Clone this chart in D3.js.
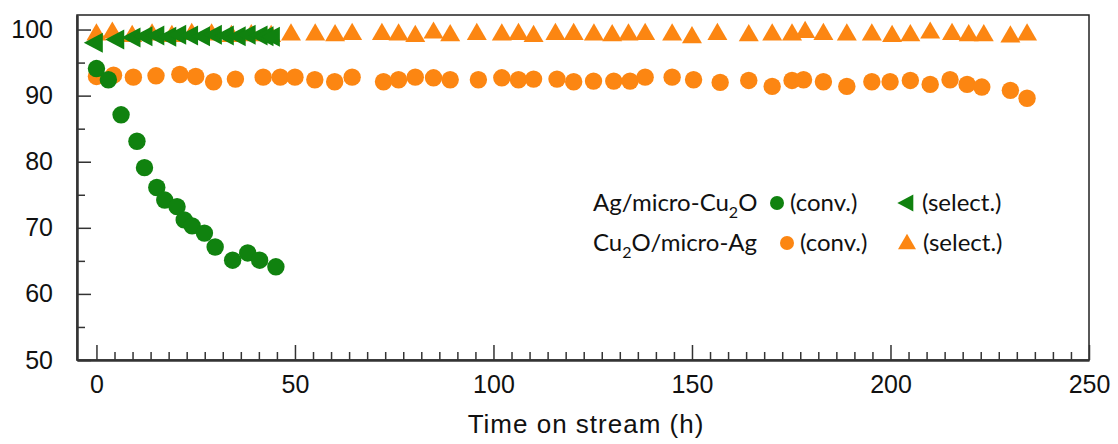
<!DOCTYPE html>
<html>
<head>
<meta charset="utf-8">
<script src="https://cdn.jsdelivr.net/npm/d3@7"></script>
<style>
  body { margin: 0; background: #fff; }
  svg { display: block; }
</style>
</head>
<body>
<div id="chart"></div>
<script>
// Ag/micro-Cu2O
const agConvTime = [0, 3, 6.2, 10.2, 12.1, 15.2, 17.2, 20.3, 22.1, 24.1, 27.2, 29.9, 34.3, 38.1, 41.1, 45.2];
const agConvVal  = [94.1, 92.4, 87.1, 83.1, 79.1, 76.1, 74.2, 73.2, 71.2, 70.3, 69.2, 67.1, 65.1, 66.2, 65.1, 64.1];
const agSelTime  = [0, 5.4, 9.5, 12.5, 15.5, 18.5, 21, 24, 27, 30, 33, 36, 38.5, 41.5, 43, 44.6];
const agSelVal   = [98.0, 98.5, 98.8, 99.0, 99.1, 98.9, 99.2, 99.1, 99.0, 99.2, 99.1, 99.0, 99.2, 99.1, 99.0, 98.9];

// Cu2O/micro-Ag
const cuConvTime = [0, 4.3, 9.3, 15, 21, 25, 29.5, 35, 42, 46.3, 50, 55, 60, 64.4, 72.3, 76.1, 80.3, 84.9, 89.1, 96.2,
  102.1, 106.3, 110.1, 116, 120.2, 125.2, 130.3, 134.4, 138.2, 145, 150.4, 157.1, 164.3, 170.2, 175.2, 178.1,
  183.1, 189, 195.3, 199.9, 205, 210, 215, 219.3, 223, 230.2, 234.4];
const cuConvVal  = [92.9, 93.1, 92.8, 93.0, 93.2, 92.9, 92.1, 92.5, 92.8, 92.8, 92.8, 92.4, 92.1, 92.8, 92.1, 92.4, 92.8, 92.7, 92.4, 92.4,
  92.7, 92.4, 92.5, 92.5, 92.1, 92.2, 92.2, 92.2, 92.8, 92.8, 92.4, 92.0, 92.3, 91.4, 92.3, 92.4,
  92.1, 91.4, 92.1, 92.1, 92.3, 91.7, 92.4, 91.7, 91.3, 90.8, 89.6];
const cuSelTime  = [0, 4, 9, 14, 19, 24, 29, 34, 39, 44, 49, 55.1, 60.1, 64.4, 71.9, 76.1, 80.3, 84.9, 89.1, 95.8,
  102.1, 106.3, 110.1, 115.6, 120.2, 125.3, 129.9, 134, 138.2, 145, 150, 156.4, 164.3, 170.2, 175.2, 178.5,
  183.1, 189, 195.3, 200.4, 205, 210, 215.5, 219.7, 223.5, 230.2, 234.4];
const cuSelVal   = [99.2, 99.5, 99.0, 99.2, 99.0, 99.3, 99.2, 99.0, 99.1, 99.0, 99.2, 99.2, 99.1, 99.3, 99.3, 99.2, 99.0, 99.5, 99.1, 99.3,
  99.2, 99.3, 99.0, 99.3, 99.3, 99.2, 99.1, 99.2, 99.3, 99.2, 98.8, 99.3, 99.1, 99.2, 99.2, 99.6,
  99.3, 99.2, 99.2, 99.0, 99.1, 99.5, 99.3, 99.1, 99.1, 98.9, 99.2];

const xTicks = [0, 50, 100, 150, 200, 250];
const yTicks = [50, 60, 70, 80, 90, 100];

const green = "#10820f", orange = "#fc8612";
const tickFont = "'Liberation Sans', Arial, sans-serif";
const legendFont = "Lato, 'Open Sans', sans-serif";

const W = 1118, H = 444;
const margin = {top: 15, right: 29, bottom: 84, left: 77};
const width = W - margin.left - margin.right,
  height = H - margin.top - margin.bottom;

const svg = d3.select("#chart")
  .append("svg")
  .attr("width", W)
  .attr("height", H)
  .append("g")
  .attr("transform", `translate(${margin.left},${margin.top})`);

const x = d3.scaleLinear().domain([-4.9, 250]).range([0, width]);
const y = d3.scaleLinear().domain([50, 102.2]).range([height, 0]);

// frame (top + right)
svg.append("rect")
  .attr("x", 0).attr("y", 0)
  .attr("width", width).attr("height", height)
  .attr("fill", "none")
  .attr("stroke", "#222")
  .attr("stroke-width", 1.5);

// minor ticks
const xMinor = d3.range(0, 250, 50 / 11).filter(v => Math.abs(v / 50 - Math.round(v / 50)) > 1e-6);
const yMinor = d3.range(55, 101, 10);

svg.append("g")
  .attr("transform", `translate(0,${height})`)
  .call(d3.axisBottom(x).tickValues(xMinor).tickSize(-8).tickFormat(""))
  .call(g => g.select(".domain").remove())
  .selectAll("line").attr("stroke", "#333").attr("stroke-width", 1.5);

svg.append("g")
  .call(d3.axisLeft(y).tickValues(yMinor).tickSize(-8).tickFormat(""))
  .call(g => g.select(".domain").remove())
  .selectAll("line").attr("stroke", "#333").attr("stroke-width", 1.5);

// major axes
const xAxis = svg.append("g")
  .attr("transform", `translate(0,${height})`)
  .call(d3.axisBottom(x).tickValues(xTicks).tickSize(-15).tickPadding(15).tickSizeOuter(0));
const yAxis = svg.append("g")
  .call(d3.axisLeft(y).tickValues(yTicks).tickSize(-14).tickPadding(24).tickSizeOuter(0));

[xAxis, yAxis].forEach(ax => {
  ax.select(".domain").attr("stroke", "#333").attr("stroke-width", 2.5);
  ax.selectAll(".tick line").attr("stroke", "#333").attr("stroke-width", 1.5);
  ax.selectAll(".tick text")
    .attr("fill", "#111")
    .style("font-family", tickFont)
    .style("font-size", "25px");
});

svg.append("text")
  .attr("x", 586 - margin.left)
  .attr("y", 433 - margin.top)
  .attr("text-anchor", "middle")
  .attr("fill", "#111")
  .style("font-family", tickFont)
  .style("font-size", "26px")
  .style("letter-spacing", "1px")
  .text("Time on stream (h)");

// markers
const triUp = (s) => {
  const h = s * 0.86;
  return `M0,${-h * 2 / 3}L${s / 2},${h / 3}L${-s / 2},${h / 3}Z`;
};
const triLeft = (w, hgt) => `M${-w * 2 / 3},0L${w / 3},${-hgt / 2}L${w / 3},${hgt / 2}Z`;

const zip = (a, b) => a.map((t, i) => ({t: t, v: b[i]}));

svg.append("g").selectAll("circle")
  .data(zip(cuConvTime, cuConvVal))
  .join("circle")
  .attr("cx", d => x(d.t)).attr("cy", d => y(d.v))
  .attr("r", 8.7)
  .attr("fill", orange);

svg.append("g").selectAll("path")
  .data(zip(cuSelTime, cuSelVal))
  .join("path")
  .attr("transform", d => `translate(${x(d.t)},${y(d.v)})`)
  .attr("d", triUp(20))
  .attr("fill", orange);

svg.append("g").selectAll("circle")
  .data(zip(agConvTime, agConvVal))
  .join("circle")
  .attr("cx", d => x(d.t)).attr("cy", d => y(d.v))
  .attr("r", 8.7)
  .attr("fill", green);

svg.append("g").selectAll("path")
  .data(zip(agSelTime, agSelVal))
  .join("path")
  .attr("transform", d => `translate(${x(d.t)},${y(d.v)})`)
  .attr("d", triLeft(19, 20))
  .attr("fill", green);

// legend
const lx = 593;
const legend = svg.append("g")
  .attr("transform", `translate(${lx - margin.left},0)`)
  .style("font-family", legendFont)
  .style("font-size", "24px")
  .attr("fill", "#111");

const row1 = 203 - margin.top, row2 = 243 - margin.top;

const r1 = legend.append("text").attr("y", row1).attr("dy", "0.35em");
r1.append("tspan").text("Ag/micro-Cu");
r1.append("tspan").attr("dy", 7).style("font-size", "16px").text("2");
r1.append("tspan").attr("dy", -7).text("O");

const r2 = legend.append("text").attr("y", row2).attr("dy", "0.35em");
r2.append("tspan").text("Cu");
r2.append("tspan").attr("dy", 7).style("font-size", "16px").text("2");
r2.append("tspan").attr("dy", -7).text("O/micro-Ag");

legend.append("circle").attr("cx", 777 - lx).attr("cy", row1).attr("r", 7).attr("fill", green);
legend.append("text").attr("x", 790 - lx).attr("y", row1).attr("dy", "0.35em").text("(conv.)");
legend.append("path").attr("transform", `translate(${908 - lx},${row1})`).attr("d", triLeft(16, 17)).attr("fill", green);
legend.append("text").attr("x", 922 - lx).attr("y", row1).attr("dy", "0.35em").text("(select.)");

legend.append("circle").attr("cx", 787 - lx).attr("cy", row2).attr("r", 7).attr("fill", orange);
legend.append("text").attr("x", 800 - lx).attr("y", row2).attr("dy", "0.35em").text("(conv.)");
legend.append("path").attr("transform", `translate(${907 - lx},${row2 + 1})`).attr("d", triUp(18)).attr("fill", orange);
legend.append("text").attr("x", 923 - lx).attr("y", row2).attr("dy", "0.35em").text("(select.)");
</script>
</body>
</html>
